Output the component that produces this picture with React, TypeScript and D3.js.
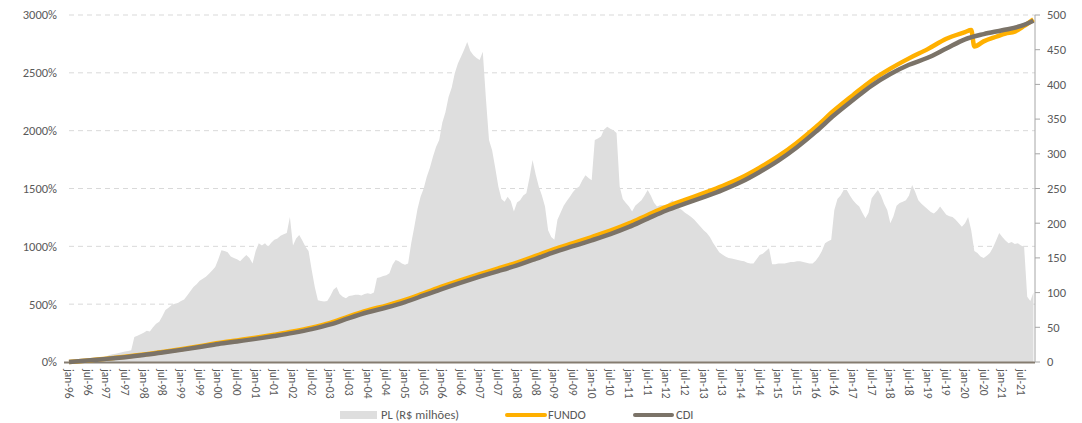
import React, { useEffect, useRef } from 'react';
import * as d3 from 'd3';

// PL (R$ milhões), one value per month from jan-96
const plMonthly = [
  1, 2, 2, 3, 3, 4, 4, 5, 5, 6, 6, 7,
  8, 10, 11, 12, 13, 14, 15, 16, 17, 36, 38, 40,
  42, 45, 44, 50, 55, 58, 66, 75, 78, 82, 84, 85,
  88, 90, 96, 102, 108, 112, 117, 120, 123, 127, 132, 137,
  148, 161, 160, 158, 152, 150, 148, 145, 150, 154, 150, 142,
  160, 171, 168, 171, 166, 172, 176, 178, 182, 184, 186, 209,
  168, 178, 183, 175, 166, 160, 133, 108, 89, 88, 87, 88,
  95, 104, 108, 98, 94, 92, 95, 96, 97, 97, 96, 98,
  99, 98, 100, 121, 122, 124, 125, 128, 140, 147, 145, 142,
  140, 142, 171, 195, 220, 238, 250, 267, 280, 296, 310, 320,
  345, 360, 382, 395, 416, 430, 440, 450, 461, 448, 442, 438,
  435, 447, 380, 320, 305, 280, 253, 235, 231, 238, 232, 217,
  230, 233, 240, 243, 265, 291, 270, 253, 240, 224, 190, 180,
  176, 205, 215, 225, 232, 238, 245, 250, 253, 262, 269, 265,
  262, 320, 322, 325, 335, 339, 336, 334, 330, 253, 235, 229,
  224, 217, 225, 229, 233, 240, 248, 240, 230, 224, 226, 226,
  226, 230, 233, 228, 222, 219, 215, 212, 209, 205, 200, 195,
  190, 186, 180, 172, 165, 158, 155, 152, 150, 149, 148, 147,
  146, 145, 143, 142, 142, 148, 154, 156, 160, 164, 141, 141,
  142, 142, 142, 143, 144, 144, 145, 145, 144, 143, 142, 142,
  146, 152, 160, 171, 174, 176, 219, 235, 240, 248, 248, 240,
  233, 228, 224, 215, 207, 215, 236, 242, 248, 240, 228, 219,
  200, 210, 225, 229, 231, 233, 240, 255, 245, 233, 228, 224,
  220, 216, 214, 218, 224, 218, 212, 210, 209, 205, 200, 195,
  200, 209, 190, 160, 157, 152, 150, 153, 157, 165, 175, 186,
  180, 175, 171, 173, 170, 171, 168, 166, 94, 88, 100
];

// CDI accumulated (%), month index counted from jan-96
const cdiMonths = [
  0, 6, 12, 18, 24, 30, 36, 42, 48, 54, 60, 66, 72, 78, 84, 90, 96, 102, 108, 114,
  120, 126, 132, 138, 144, 150, 156, 162, 168, 174, 180, 186, 192, 198, 204, 210,
  216, 222, 228, 234, 240, 246, 252, 258, 264, 270, 276, 282, 288, 294, 300, 306, 310
];
const cdiValues = [
  0, 12, 27, 42, 60, 82, 105, 130, 156, 178, 200, 225, 252, 284, 325, 380, 430, 471, 518, 575,
  633, 687, 738, 786, 836, 892, 950, 1001, 1052, 1106, 1168, 1240, 1310, 1369, 1426, 1486,
  1556, 1643, 1741, 1857, 1990, 2135, 2265, 2390, 2490, 2570, 2630, 2710, 2790, 2835, 2868, 2905, 2950
];

// FUNDO accumulated (%)
const fundoMonths = [
  0, 6, 12, 18, 24, 30, 36, 42, 48, 54, 60, 66, 72, 78, 84, 90, 96, 102, 108, 114,
  120, 126, 132, 138, 144, 150, 156, 162, 168, 174, 180, 186, 192, 198, 204, 210,
  216, 222, 228, 234, 240, 246, 252, 258, 264, 270, 276, 282, 288, 290, 291, 294, 298, 301, 304, 307, 310
];
const fundoValues = [
  0, 13, 29, 45, 64, 87, 111, 137, 164, 187, 210, 236, 264, 297, 339, 395, 446, 488, 536, 594,
  653, 708, 760, 809, 860, 917, 976, 1028, 1080, 1135, 1198, 1271, 1342, 1402, 1460, 1521,
  1592, 1680, 1779, 1896, 2030, 2176, 2307, 2434, 2536, 2625, 2705, 2795, 2852, 2870, 2728, 2772, 2812, 2840, 2856, 2905, 2962
];

const dateLabels = [
  'jan-96', 'jul-96', 'jan-97', 'jul-97', 'jan-98', 'jul-98', 'jan-99', 'jul-99',
  'jan-00', 'jul-00', 'jan-01', 'jul-01', 'jan-02', 'jul-02', 'jan-03', 'jul-03',
  'jan-04', 'jul-04', 'jan-05', 'jul-05', 'jan-06', 'jul-06', 'jan-07', 'jul-07',
  'jan-08', 'jul-08', 'jan-09', 'jul-09', 'jan-10', 'jul-10', 'jan-11', 'jul-11',
  'jan-12', 'jul-12', 'jan-13', 'jul-13', 'jan-14', 'jul-14', 'jan-15', 'jul-15',
  'jan-16', 'jul-16', 'jan-17', 'jul-17', 'jan-18', 'jul-18', 'jan-19', 'jul-19',
  'jan-20', 'jul-20', 'jan-21', 'jul-21'
];

const leftTicks = [0, 500, 1000, 1500, 2000, 2500, 3000];
const rightTicks = [0, 50, 100, 150, 200, 250, 300, 350, 400, 450, 500];

const font = 'Carlito, Lato, "Open Sans", sans-serif';
const textColor = '#595959';
const areaColor = '#DEDEDE';
const fundoColor = '#FFB000';
const cdiColor = '#7B7368';

export default function App() {
  const ref = useRef<SVGSVGElement>(null);

  useEffect(() => {
    let svg = d3.select(ref.current);
    svg.selectAll('*').remove();

    let top = 15;
    let bottom = 362;
    let x = d3.scaleLinear().domain([0, 310.5]).range([69, 1035]);
    let yLeft = d3.scaleLinear().domain([0, 3000]).range([bottom, top]);
    let yRight = d3.scaleLinear().domain([0, 500]).range([bottom, top]);

    // grid
    svg.append('g')
      .selectAll('line')
      .data(leftTicks.filter(t => t > 0))
      .enter()
      .append('line')
      .attr('x1', x(0))
      .attr('x2', x.range()[1])
      .attr('y1', d => yLeft(d))
      .attr('y2', d => yLeft(d))
      .attr('stroke', '#D9D9D9')
      .attr('stroke-dasharray', '5,4');

    // PL area
    let areaFunc = d3.area<number>()
      .x((d, i) => x(i))
      .y0(bottom)
      .y1(d => yRight(d));
    svg.append('path')
      .attr('d', areaFunc(plMonthly))
      .attr('fill', areaColor);

    // axes
    svg.append('line')
      .attr('x1', 64).attr('x2', x.range()[1])
      .attr('y1', bottom + 0.5).attr('y2', bottom + 0.5)
      .attr('stroke', '#857C70')
      .attr('stroke-width', 2);

    svg.append('line')
      .attr('x1', x.range()[1]).attr('x2', x.range()[1])
      .attr('y1', top).attr('y2', bottom)
      .attr('stroke', '#A6A6A6');

    svg.append('g')
      .selectAll('line')
      .data(rightTicks)
      .enter()
      .append('line')
      .attr('x1', x.range()[1]).attr('x2', x.range()[1] + 5)
      .attr('y1', d => yRight(d)).attr('y2', d => yRight(d))
      .attr('stroke', '#A6A6A6');

    let fundoPts = fundoMonths.map((m, i) => [x(m), yLeft(fundoValues[i])] as [number, number]);
    let cdiPts = cdiMonths.map((m, i) => [x(m), yLeft(cdiValues[i])] as [number, number]);

    svg.append('path')
      .attr('d', d3.line().curve(d3.curveMonotoneX)(fundoPts))
      .attr('fill', 'none')
      .attr('stroke', fundoColor)
      .attr('stroke-width', 4.5)
      .attr('stroke-linejoin', 'round');

    svg.append('path')
      .attr('d', d3.line().curve(d3.curveMonotoneX)(cdiPts))
      .attr('fill', 'none')
      .attr('stroke', cdiColor)
      .attr('stroke-width', 4.5)
      .attr('stroke-linejoin', 'round');

    // left labels
    svg.append('g')
      .selectAll('text')
      .data(leftTicks)
      .enter()
      .append('text')
      .attr('x', 57)
      .attr('y', d => yLeft(d))
      .attr('dy', '0.35em')
      .attr('text-anchor', 'end')
      .attr('font-family', font)
      .attr('font-size', 12.5)
      .attr('fill', textColor)
      .text(d => d + '%');

    // right labels
    svg.append('g')
      .selectAll('text')
      .data(rightTicks)
      .enter()
      .append('text')
      .attr('x', 1047)
      .attr('y', d => yRight(d))
      .attr('dy', '0.35em')
      .attr('font-family', font)
      .attr('font-size', 12.5)
      .attr('fill', textColor)
      .text(d => d);

    // date labels
    svg.append('g')
      .selectAll('text')
      .data(dateLabels)
      .enter()
      .append('text')
      .attr('transform', (d, i) => 'translate(' + x(i * 6) + ',' + (bottom + 7) + ') rotate(90)')
      .attr('dy', '0.35em')
      .attr('font-family', font)
      .attr('font-size', 11.5)
      .attr('fill', textColor)
      .text(d => d);

    // axis title, cut off like in the source image
    svg.append('clipPath')
      .attr('id', 'title-clip')
      .append('rect')
      .attr('x', 10).attr('y', 20).attr('width', 8).attr('height', 48);
    svg.append('text')
      .attr('clip-path', 'url(#title-clip)')
      .attr('transform', 'translate(16,44) rotate(-90)')
      .attr('text-anchor', 'middle')
      .attr('font-family', font)
      .attr('font-size', 11)
      .attr('fill', textColor)
      .text('Rentabilidade');

    // legend
    let legend = svg.append('g').attr('font-family', font).attr('font-size', 12.5).attr('fill', textColor);
    legend.append('rect')
      .attr('x', 340).attr('y', 411).attr('width', 37).attr('height', 8)
      .attr('fill', areaColor);
    legend.append('text').attr('x', 381).attr('y', 415).attr('dy', '0.35em').text('PL (R$ milhões)');
    legend.append('line')
      .attr('x1', 507).attr('x2', 545).attr('y1', 415).attr('y2', 415)
      .attr('stroke', fundoColor).attr('stroke-width', 4).attr('stroke-linecap', 'round');
    legend.append('text').attr('x', 548).attr('y', 415).attr('dy', '0.35em').text('FUNDO');
    legend.append('line')
      .attr('x1', 635).attr('x2', 672).attr('y1', 415).attr('y2', 415)
      .attr('stroke', cdiColor).attr('stroke-width', 4).attr('stroke-linecap', 'round');
    legend.append('text').attr('x', 676).attr('y', 415).attr('dy', '0.35em').text('CDI');
  }, []);

  return (
    <svg
      ref={ref}
      width={1082}
      height={423}
      style={{ position: 'absolute', left: 0, top: 0, background: '#fff' }}
    />
  );
}
